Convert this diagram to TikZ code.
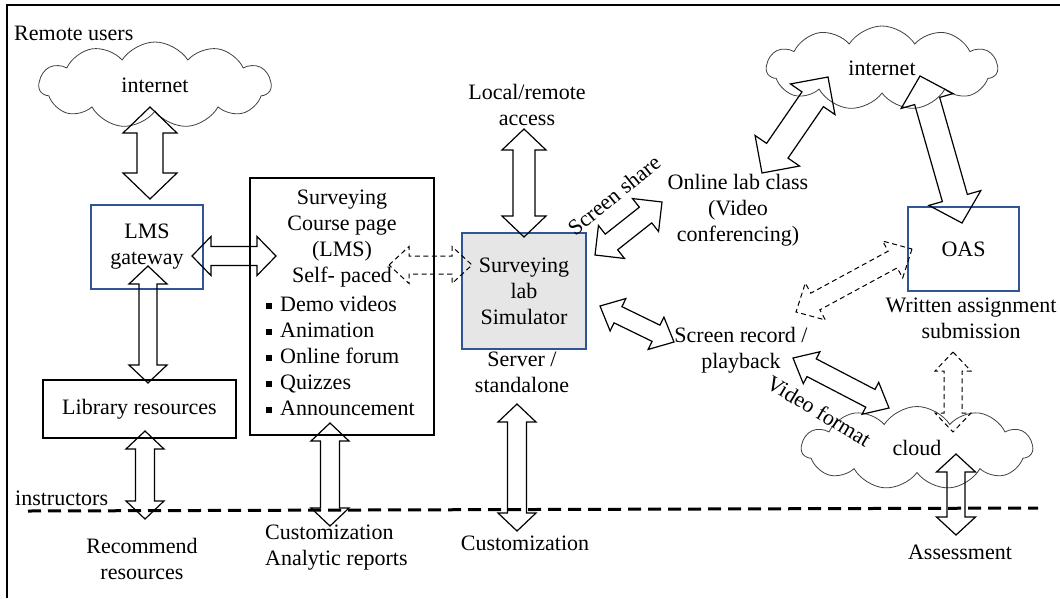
\documentclass[tikz,border=0pt]{standalone}
\usepackage{fontspec}
\setmainfont{Liberation Serif}
\usetikzlibrary{calc,shapes.symbols}
\definecolor{boxblue}{HTML}{2F5597}
\definecolor{simgray}{HTML}{E7E6E6}
\definecolor{cloudline}{HTML}{404040}
\tikzset{
  arrowbody/.style={draw=black, line width=1.2pt, line join=miter},
  dasharrow/.style={dash pattern=on 5pt off 3.5pt, line width=1pt},
  bluebox/.style={draw=boxblue, line width=1.6pt, rectangle, inner sep=0pt, align=center},
  blackbox/.style={draw=black, line width=1.8pt, rectangle, inner sep=0pt, align=center},
  cloudnode/.style={cloud, draw=cloudline, line width=0.8pt, cloud puffs=11, cloud puff arc=115, cloud ignores aspect, inner sep=0pt},
  txt/.style={inner sep=0pt, align=center},
}
\newcommand\sqbullet{\rule[0.12em]{6pt}{6pt}\hspace{8pt}}
\newcommand\dblarrow[6][]{%
  \coordinate (dbA) at ($(#2)!#6!(#3)$);
  \coordinate (dbB) at ($(#3)!#6!(#2)$);
  \draw[arrowbody,#1] (#2) -- ($(dbA)!#5!90:(#3)$) -- ($(dbA)!#4!90:(#3)$) -- ($(dbB)!#4!-90:(#2)$) -- ($(dbB)!#5!-90:(#2)$) -- (#3) -- ($(dbB)!#5!90:(#2)$) -- ($(dbB)!#4!90:(#2)$) -- ($(dbA)!#4!-90:(#3)$) -- ($(dbA)!#5!-90:(#3)$) -- cycle;
}
\begin{document}
\begin{tikzpicture}[x=1pt,y=-1pt,font=\fontsize{22}{26}\selectfont]
\useasboundingbox (0,0) rectangle (1060,598);
% frame
\draw[line width=2.5pt] (7,598) -- (7,5) -- (1060,5);
% divider
\draw[line width=3pt, dash pattern=on 13pt off 7pt] (28,511) -- (1038,508);

% nodes
\node[txt, anchor=west] (remote) at (14,33) {Remote users};
\node[cloudnode, minimum width=232pt, minimum height=86pt] (cloudL) at (155,85) {internet};
\node[bluebox, minimum width=112pt, minimum height=84pt] (lms) at (147,247) {LMS\\gateway};
\node[blackbox, minimum width=184pt, minimum height=257pt] (course) at (342,306.5) {};
\node[txt] (coursehd) at (342,239) {Surveying\\Course page\\(LMS)\\Self- paced};
\node[txt, anchor=west, align=left] (courselist) at (266,356) {\sqbullet Demo videos\\\sqbullet Animation\\\sqbullet Online forum\\\sqbullet Quizzes\\\sqbullet Announcement};
\node[blackbox, minimum width=193pt, minimum height=58pt] (libr) at (139.5,409) {Library resources};
\node[bluebox, fill=simgray, minimum width=124pt, minimum height=116pt] (sim) at (524,291) {Surveying\\lab\\Simulator};
\node[txt] (server) at (522,372.5) {Server /\\standalone};
\node[txt] (local) at (527,105) {Local/remote\\access};
\node[txt] (online) at (738,210) {Online lab class\\(Video\\conferencing)};
\node[cloudnode, minimum width=231pt, minimum height=84pt] (cloudR) at (882,68) {internet};
\node[bluebox, minimum width=111pt, minimum height=84pt] (oas) at (963.5,249) {OAS};
\node[txt] (written) at (971,318.5) {Written assignment\\submission};
\node[txt] (screcord) at (741,350) {Screen record /\\playback};
\node[cloudnode, minimum width=231pt, minimum height=83pt] (cloudB) at (917,448) {cloud};
\node[txt] (assess) at (960,552) {Assessment};
\node[txt] (custsim) at (525,543) {Customization};
\node[txt, anchor=west, align=left] (custcourse) at (265,547.5) {Customization\\Analytic reports};
\node[txt] (recommend) at (142,559) {Recommend\\resources};
\node[txt, anchor=west] (instr) at (15,498) {instructors};
\node[txt, rotate=39] (sslabel) at (614,195) {Screen share};
\node[txt, rotate=-31] (vflabel) at (819,411) {Video format};

% arrow end points
\coordinate (a1s) at (150,107);  \coordinate (a1e) at (150,199);
\coordinate (a2s) at (192,256);  \coordinate (a2e) at (276,256);
\coordinate (a3s) at (148,266);  \coordinate (a3e) at (148,383);
\coordinate (a4s) at (145,431);  \coordinate (a4e) at (145,519);
\coordinate (a5s) at (330,423);  \coordinate (a5e) at (330,526);
\coordinate (a6s) at (524,129);  \coordinate (a6e) at (524,237);
\coordinate (a7s) at (517,404);  \coordinate (a7e) at (517,531);
\coordinate (a8s) at (389,265);  \coordinate (a8e) at (472,265);
\coordinate (a9s) at (595,255);  \coordinate (a9e) at (662,202);
\coordinate (a10s) at (762,173); \coordinate (a10e) at (828,77);
\coordinate (a11s) at (920,76);  \coordinate (a11e) at (962,223);
\coordinate (a12s) at (912,249); \coordinate (a12e) at (796,312);
\coordinate (a13s) at (600,306); \coordinate (a13e) at (674,342);
\coordinate (a14s) at (793,358); \coordinate (a14e) at (889,408);
\coordinate (a15s) at (953,352); \coordinate (a15e) at (953,432);
\coordinate (a16s) at (956,454); \coordinate (a16e) at (956,535);

% arrows
\dblarrow{a1s}{a1e}{13pt}{27pt}{26pt}
\dblarrow{a2s}{a2e}{9.5pt}{19.5pt}{19pt}
\dblarrow{a3s}{a3e}{9pt}{19pt}{18pt}
\dblarrow{a4s}{a4e}{9.5pt}{19pt}{18pt}
\dblarrow{a5s}{a5e}{9.5pt}{19pt}{18pt}
\dblarrow{a6s}{a6e}{11pt}{22pt}{21pt}
\dblarrow{a7s}{a7e}{9.5pt}{19pt}{18pt}
\dblarrow[dasharrow]{a8s}{a8e}{9pt}{18.5pt}{20pt}
\dblarrow{a9s}{a9e}{10pt}{21pt}{21pt}
\dblarrow{a10s}{a10e}{13pt}{27pt}{27pt}
\dblarrow{a11s}{a11e}{13pt}{27pt}{26pt}
\dblarrow[dasharrow]{a12s}{a12e}{9.5pt}{21pt}{22pt}
\dblarrow{a13s}{a13e}{9pt}{18pt}{20pt}
\dblarrow{a14s}{a14e}{10pt}{18pt}{21pt}
\dblarrow[dasharrow]{a15s}{a15e}{9pt}{18pt}{19pt}
\dblarrow{a16s}{a16e}{9pt}{19.5pt}{18pt}
\end{tikzpicture}
\end{document}
